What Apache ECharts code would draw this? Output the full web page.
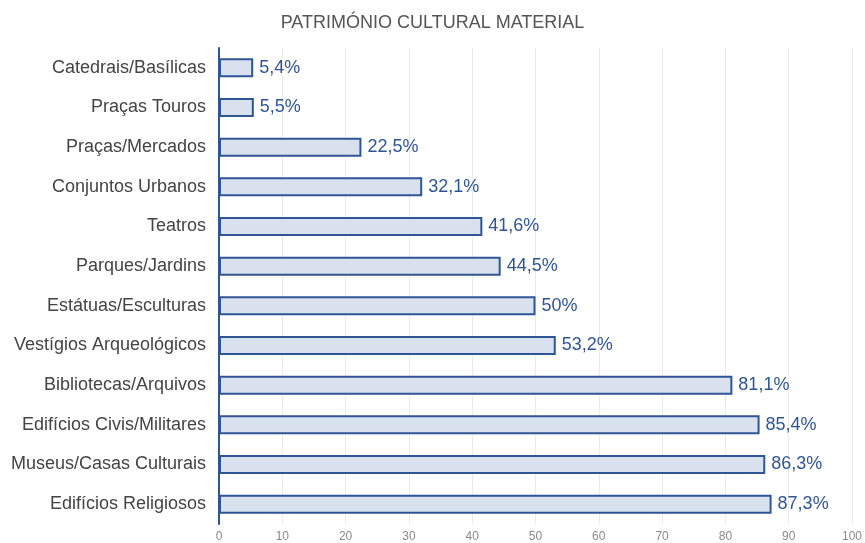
<!DOCTYPE html>
<html>
<head>
<meta charset="utf-8">
<script src="https://cdn.jsdelivr.net/npm/echarts@6/dist/echarts.min.js"></script>
<style>html,body{margin:0;padding:0;background:#fff}#c{width:865px;height:543px}</style>
</head>
<body>
<div id="c"></div>
<script>
const categories = ["Catedrais/Basílicas","Praças Touros","Praças/Mercados","Conjuntos Urbanos","Teatros","Parques/Jardins","Estátuas/Esculturas","Vestígios Arqueológicos","Bibliotecas/Arquivos","Edifícios Civis/Militares","Museus/Casas Culturais","Edifícios Religiosos"];
const values = [5.4,5.5,22.5,32.1,41.6,44.5,50,53.2,81.1,85.4,86.3,87.3];
const valueLabels = ["5,4%","5,5%","22,5%","32,1%","41,6%","44,5%","50%","53,2%","81,1%","85,4%","86,3%","87,3%"];
const title = "PATRIMÓNIO CULTURAL MATERIAL";

const font = "Liberation Sans, Arial, sans-serif";
const chart = echarts.init(document.getElementById('c'));
chart.setOption({
  animation: false,
  title: {text: title, left: 'center', top: 9, textStyle: {fontFamily: font, fontSize: 18, fontWeight: 'normal', color: '#555'}},
  grid: {left: 219, right: 10, top: 48, bottom: 15, containLabel: false},
  xAxis: {type: 'value', min: 0, max: 100, interval: 10,
    axisLine: {show: false}, axisTick: {show: false},
    splitLine: {lineStyle: {color: '#ebebeb', width: 1}},
    axisLabel: {fontFamily: font, fontSize: 12, color: '#8a8a8a', margin: 7}},
  yAxis: {type: 'category', data: categories, inverse: true,
    axisLine: {lineStyle: {color: '#2f5597', width: 2}}, axisTick: {show: false},
    axisLabel: {fontFamily: font, fontSize: 18, color: '#444', margin: 13}},
  series: [{type: 'bar', data: values, barWidth: 19,
    itemStyle: {color: '#dae1ee', borderColor: '#2f5597', borderWidth: 2},
    label: {show: true, position: 'right', distance: 6, fontFamily: font, fontSize: 18, color: '#2f5597',
      formatter: p => valueLabels[p.dataIndex]}}]
});
</script>
</body>
</html>
